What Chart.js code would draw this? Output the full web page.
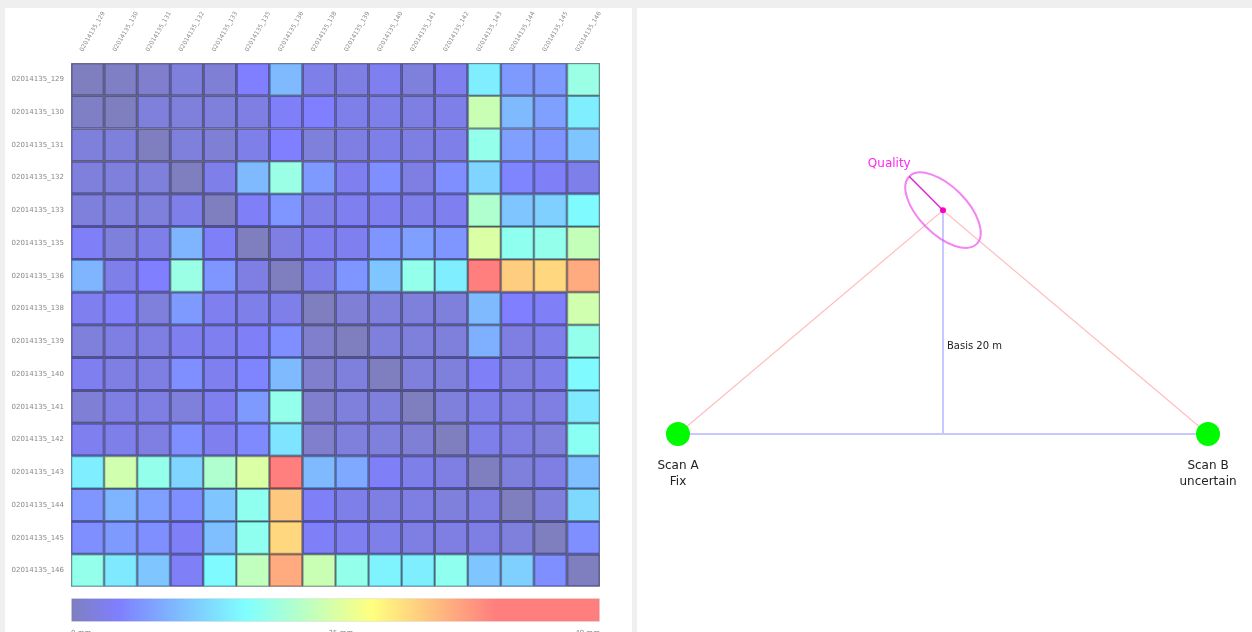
<!DOCTYPE html>
<html>
<head>
<meta charset="utf-8">
<script src="https://cdn.jsdelivr.net/npm/chart.js@4.4.1/dist/chart.umd.min.js"></script>
<style>
  body { margin: 0; background: #efefef; width: 1252px; height: 632px; overflow: hidden; position: relative; }
  .panel { position: absolute; background: #fff; }
  canvas { position: absolute; }
</style>
</head>
<body>
<div class="panel" style="left:5px; top:8px; width:627px; height:624px;"></div>
<div class="panel" style="left:637px; top:8px; width:615px; height:624px;"></div>
<canvas id="heat" width="627" height="590" style="left:5px; top:8px;"></canvas>
<canvas id="bar" width="627" height="36" style="left:5px; top:596px;"></canvas>
<canvas id="scan" width="615" height="624" style="left:637px; top:8px;"></canvas>
<script>
// scan ids (rows and columns of the comparison matrix)
const scanIds = ['129', '130', '131', '132', '133', '135', '136', '138', '139', '140', '141', '142', '143', '144', '145', '146'];
const rowLabels = scanIds.map(s => '02014135_' + s);
const colLabels = scanIds.map(s => '02014135_' + s);

// deviation in mm, one array per row
const diffMm = [
  [0, 0.5, 1.0, 2.0, 1.5, 4.4, 9.8, 2.9, 2.5, 3.4, 2.0, 3.4, 14.7, 6.9, 6.9, 18.6],
  [0.5, 0, 2.0, 2.0, 2.0, 2.5, 3.9, 4.4, 2.9, 2.9, 2.5, 2.9, 23.0, 9.8, 7.4, 14.7],
  [2.0, 2.0, 0, 2.0, 1.5, 2.9, 4.4, 2.0, 2.5, 2.9, 2.5, 2.9, 18.1, 7.4, 6.4, 10.8],
  [2.0, 2.0, 2.0, 0, 2.9, 9.8, 18.6, 6.9, 3.4, 5.9, 2.5, 5.9, 12.3, 4.9, 3.9, 2.9],
  [2.0, 2.0, 2.0, 2.9, 0, 3.9, 6.4, 2.9, 3.4, 3.4, 2.9, 3.4, 20.6, 10.8, 11.8, 15.7],
  [3.9, 2.0, 2.9, 9.3, 3.9, 0, 2.5, 3.4, 3.4, 6.4, 7.4, 6.4, 24.5, 17.6, 18.1, 22.5],
  [9.3, 2.9, 4.4, 18.6, 6.4, 2.5, 0, 2.9, 6.4, 10.8, 18.1, 14.7, 39.2, 32.3, 31.4, 35.3],
  [3.4, 3.9, 2.0, 6.9, 3.4, 2.9, 2.9, 0, 1.5, 2.0, 2.0, 2.0, 9.8, 4.4, 3.9, 23.5],
  [2.0, 2.5, 2.5, 3.4, 3.4, 3.9, 5.9, 1.0, 0, 2.0, 2.0, 2.0, 8.8, 2.5, 2.9, 18.1],
  [3.4, 2.5, 2.5, 5.9, 3.4, 4.9, 9.8, 1.0, 2.0, 0, 2.0, 2.0, 3.9, 2.5, 2.9, 15.7],
  [1.5, 2.5, 2.5, 2.0, 3.4, 6.9, 18.1, 1.0, 2.0, 2.0, 0, 2.0, 2.9, 2.5, 2.5, 14.2],
  [3.4, 2.9, 2.5, 5.9, 3.4, 5.4, 13.7, 1.0, 2.0, 2.0, 1.5, 0, 2.9, 2.5, 2.0, 17.2],
  [14.7, 23.5, 18.1, 12.3, 20.6, 24.5, 39.2, 9.8, 8.3, 3.9, 2.9, 2.5, 0, 2.0, 2.5, 10.3],
  [6.4, 9.3, 7.4, 5.9, 10.8, 17.6, 32.8, 3.9, 2.9, 2.5, 2.5, 2.0, 2.5, 0, 2.0, 12.7],
  [5.9, 6.9, 5.9, 3.9, 10.3, 17.6, 31.4, 3.9, 3.4, 2.9, 2.5, 2.5, 2.5, 2.0, 0, 5.9],
  [18.1, 14.2, 10.8, 3.9, 15.7, 22.1, 35.3, 23.0, 18.1, 15.2, 14.7, 17.6, 10.8, 11.8, 5.9, 0]
];

// colour bar
const barTicks = [0, 25, 49];
const barMax = 49;
const colorStops = [
  [0, [0, 0, 128]],
  [0.09, [0, 0, 255]],
  [0.33, [0, 255, 255]],
  [0.57, [255, 255, 0]],
  [0.8, [255, 0, 0]],
  [1, [255, 0, 0]]
];

// scan geometry (metres)
const scanA = { x: 0, y: 0 };
const scanB = { x: 20, y: 0 };
const target = { x: 10, y: 8.45 };
const foot = { x: 10, y: 0 };
const qualityAxes = [1.8, 0.9];   // semi axes of the error ellipse
const qualityAngle = -45;         // degrees

const FONT = "'DejaVu Sans', Verdana, sans-serif";

function jet(v) {
  const t = Math.max(0, Math.min(1, v / barMax));
  for (let i = 1; i < colorStops.length; i++) {
    const [p1, c1] = colorStops[i];
    const [p0, c0] = colorStops[i - 1];
    if (t <= p1) {
      const f = (t - p0) / (p1 - p0);
      return c0.map((c, k) => Math.round(c + (c1[k] - c) * f));
    }
  }
  return colorStops[colorStops.length - 1][1];
}
function cellColor(v) {
  const c = jet(v);
  return 'rgba(' + c[0] + ',' + c[1] + ',' + c[2] + ',0.5)';
}

// ---------- heat map ----------
new Chart(document.getElementById('heat'), {
  type: 'bar',
  data: {
    labels: colLabels,
    datasets: diffMm.map((row, r) => ({
      label: rowLabels[r],
      data: row.map(() => 1),
      backgroundColor: row.map(cellColor),
      borderColor: 'rgba(10,10,40,0.55)',
      borderWidth: 1,
      borderSkipped: false,
      barPercentage: 1,
      categoryPercentage: 1
    }))
  },
  options: {
    responsive: false,
    animation: false,
    layout: { padding: { right: 32, bottom: 5, top: 0, left: 0 } },
    plugins: { legend: { display: false }, tooltip: { enabled: false } },
    scales: {
      x: {
        position: 'top',
        stacked: true,
        grid: { display: false },
        border: { display: false },
        ticks: { color: '#888', font: { size: 6, family: FONT }, minRotation: 60, maxRotation: 60, padding: 2 },
        afterFit: s => { s.height = 55; }
      },
      y: {
        stacked: true,
        reverse: true,
        min: 0,
        max: diffMm.length,
        grid: { display: false, drawTicks: false },
        border: { display: false },
        afterBuildTicks: s => { s.ticks = rowLabels.map((_, i) => ({ value: i + 0.5 })); },
        ticks: {
          color: '#888',
          font: { size: 7, family: FONT },
          padding: 7,
          autoSkip: false,
          callback: (v, i) => rowLabels[i]
        },
        afterFit: s => { s.width = 66; }
      }
    }
  }
});

// ---------- colour bar ----------
new Chart(document.getElementById('bar'), {
  type: 'bar',
  data: {
    labels: [''],
    datasets: [{
      data: [barMax],
      backgroundColor: ctx => {
        const area = ctx.chart.chartArea;
        if (!area) return 'transparent';
        const g = ctx.chart.ctx.createLinearGradient(area.left, 0, area.right, 0);
        colorStops.forEach(([p, c]) => g.addColorStop(p, 'rgba(' + c.join(',') + ',0.5)'));
        return g;
      },
      borderColor: 'rgba(0,0,0,0.08)',
      borderWidth: 1,
      borderSkipped: false,
      barPercentage: 1,
      categoryPercentage: 1
    }]
  },
  options: {
    indexAxis: 'y',
    responsive: false,
    animation: false,
    layout: { padding: { left: 66, right: 32, top: 2, bottom: 0 } },
    plugins: { legend: { display: false }, tooltip: { enabled: false } },
    scales: {
      y: { display: false },
      x: {
        min: 0,
        max: barMax,
        grid: { display: false, drawTicks: false },
        border: { display: false },
        afterBuildTicks: s => { s.ticks = barTicks.map(v => ({ value: v })); },
        ticks: { color: '#888', font: { size: 7, family: FONT }, padding: 7, align: 'inner', callback: v => v + ' mm' },
        afterFit: s => { s.height = 10; }
      }
    }
  }
});

// ---------- scan geometry ----------
const scanPlugin = {
  id: 'scanDecor',
  afterDatasetsDraw(chart) {
    const { ctx, scales: { x, y } } = chart;
    const cx = x.getPixelForValue(target.x);
    const cy = y.getPixelForValue(target.y);
    const a = x.getPixelForValue(target.x + qualityAxes[0]) - x.getPixelForValue(target.x);
    const b = x.getPixelForValue(target.x + qualityAxes[1]) - x.getPixelForValue(target.x);
    const ang = -qualityAngle * Math.PI / 180;
    ctx.save();
    ctx.strokeStyle = 'rgba(240,90,240,0.75)';
    ctx.lineWidth = 2;
    ctx.beginPath();
    ctx.ellipse(cx, cy, a, b, ang, 0, Math.PI * 2);
    ctx.stroke();
    const ex = cx - a * Math.cos(ang);
    const ey = cy - a * Math.sin(ang);
    ctx.strokeStyle = 'rgba(215,0,200,0.85)';
    ctx.lineWidth = 1.5;
    ctx.beginPath();
    ctx.moveTo(ex, ey);
    ctx.lineTo(cx, cy);
    ctx.stroke();
    ctx.fillStyle = 'rgb(255,40,235)';
    ctx.font = '12px ' + FONT;
    ctx.textAlign = 'center';
    ctx.textBaseline = 'middle';
    ctx.fillText('Quality', ex - 20, ey - 13);

    ctx.fillStyle = '#222';
    ctx.font = '12px ' + FONT;
    [[scanA, 'Scan A', 'Fix'], [scanB, 'Scan B', 'uncertain']].forEach(([p, l1, l2]) => {
      const px = x.getPixelForValue(p.x);
      const py = y.getPixelForValue(p.y);
      ctx.fillText(l1, px, py + 32);
      ctx.fillText(l2, px, py + 48);
    });
    ctx.font = '10px ' + FONT;
    ctx.textAlign = 'left';
    const fx = x.getPixelForValue(foot.x);
    const fy = y.getPixelForValue(foot.y);
    ctx.fillText('Basis 20 m', fx + 4, fy - 88);
    ctx.restore();
  }
};

new Chart(document.getElementById('scan'), {
  type: 'scatter',
  data: {
    datasets: [
      { data: [target], pointRadius: 3, backgroundColor: 'rgb(255,0,200)', borderWidth: 0, showLine: false },
      { data: [scanA, scanB], pointRadius: 12, backgroundColor: 'rgb(0,250,0)', borderWidth: 0, showLine: false },
      { data: [scanA, target, scanB], showLine: true, pointRadius: 0, borderColor: 'rgba(255,190,190,1)', borderWidth: 1.2 },
      { data: [foot, target], showLine: true, pointRadius: 0, borderColor: 'rgba(200,200,255,1)', borderWidth: 2 },
      { data: [scanA, scanB], showLine: true, pointRadius: 0, borderColor: 'rgba(200,200,255,1)', borderWidth: 2 }
    ]
  },
  options: {
    responsive: false,
    animation: false,
    layout: { padding: 0, autoPadding: false },
    plugins: { legend: { display: false }, tooltip: { enabled: false } },
    scales: {
      x: { display: false, min: -1.547, max: 21.66 },
      y: { display: false, min: -7.47, max: 16.08 }
    }
  },
  plugins: [scanPlugin]
});
</script>
</body>
</html>
